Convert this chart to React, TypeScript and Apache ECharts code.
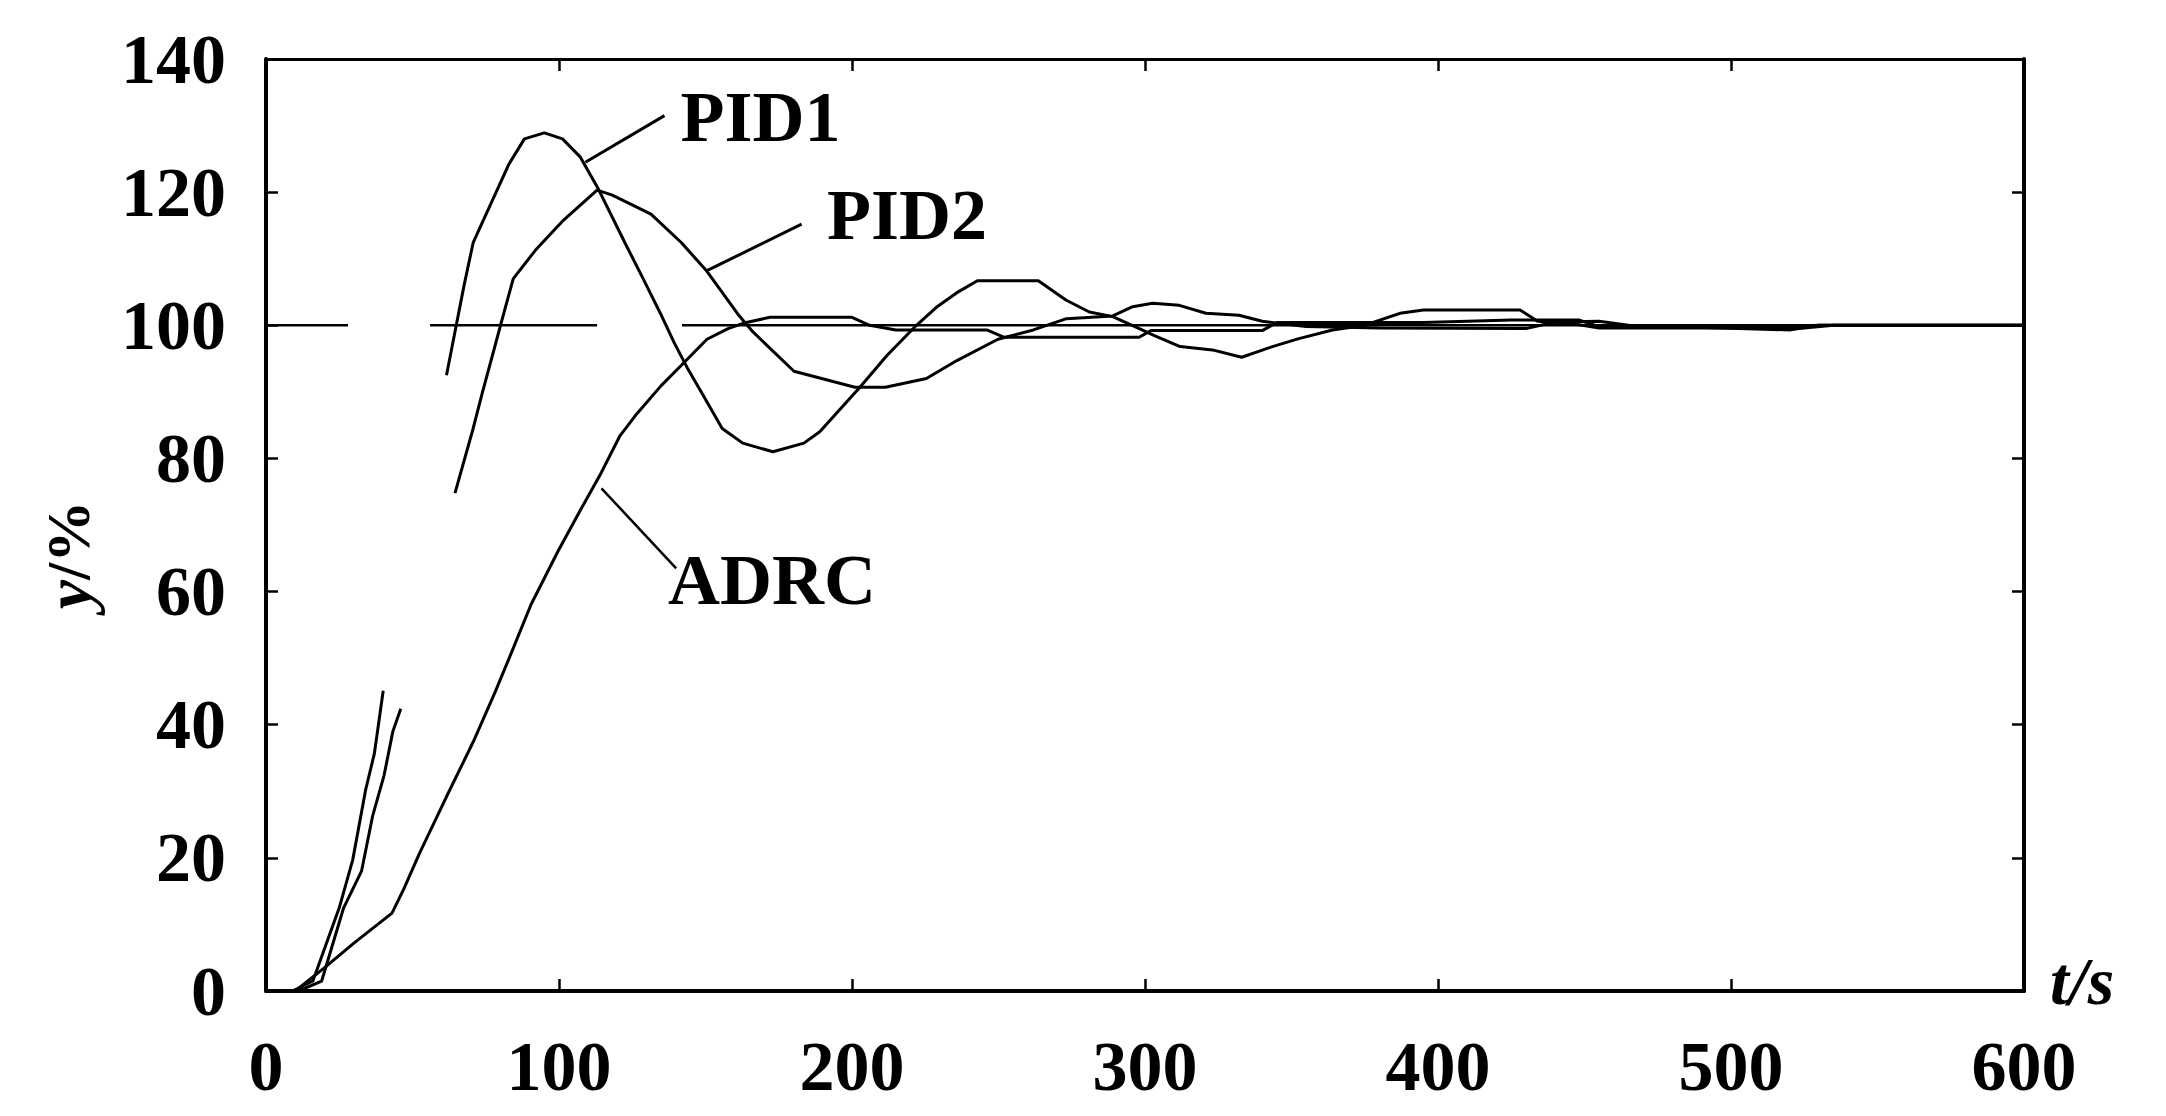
import React, { useEffect, useRef } from "react";
import * as echarts from "echarts";

// ---- axes ----
const xTickValues = [0, 100, 200, 300, 400, 500, 600];
const yTickValues = [0, 20, 40, 60, 80, 100, 120, 140];

// ---- PID1 (t in s, y in %) ; null = break in the trace ----
const pid1T = [9, 16, 25, 29.6, 34, 37, 40, 50, 61.6, 67.6, 70.7, 76.8, 82.9, 88.2, 95, 101.2, 107.2, 113.4, 122.5, 128.7, 134.7, 139.3, 143.8, 148.8, 155.7, 162.7, 173, 183.6, 189, 202.7, 212, 222, 228.8, 235.8, 242.8, 263.6, 273, 281, 289, 299, 303, 312, 323, 333, 343.5, 352.5, 364, 375, 387, 395, 428, 434, 445, 455, 525, 535, 600];
const pid1Y = [0, 1.5, 12.5, 19.7, 30.2, 35.7, 45.1, null, 92.5, 106, 112.4, 118.3, 124.2, 128, 128.9, 128, 125.3, 120.5, 112.4, 107, 101.7, 97.4, 93.6, 89.8, 84.5, 82.3, 81, 82.3, 84, 90.7, 95.5, 100, 102.7, 104.9, 106.7, 106.7, 103.8, 102, 101.3, 99.3, 98.5, 96.8, 96.3, 95.2, 96.8, 98, 99.3, 100, 101.8, 102.3, 102.3, 100.6, 100.3, 99.6, 99.6, 100, 100];

// ---- PID2 ----
const pid2T = [11, 19, 26.5, 32.6, 36.4, 40.3, 43.3, 46, 55, 64.5, 70.7, 73.8, 78.4, 81.4, 84.4, 92, 101.1, 113, 118, 131.4, 141.8, 150.5, 161, 166.2, 180.2, 201, 211.4, 225.4, 235.8, 249.8, 261.9, 273.2, 289, 295.8, 302.6, 311.7, 320.8, 332.1, 340, 355, 380, 430, 440, 455, 465, 520, 530, 600];
const pid2Y = [0, 1.5, 12.5, 18, 26.3, 32.4, 39, 42.4, null, 74.8, 84.5, 89.8, 97.3, 102.2, 107, 111.3, 115.6, 120.3, 119.6, 116.7, 112.4, 108.1, 101.7, 99, 93.1, 90.7, 90.7, 92, 94.7, 97.9, 99.3, 101, 101.4, 102.8, 103.3, 103, 101.8, 101.5, 100.6, 99.8, 99.6, 99.5, 100.5, 100.6, 100, 99.3, 100, 100];

// ---- ADRC ----
const adrcT = [10, 20, 30, 43, 47, 52.5, 61.5, 70.7, 78.3, 83, 90.5, 99.7, 107, 114, 120.8, 126, 134.8, 142.7, 150.5, 157.7, 162.8, 172, 200, 206, 215, 246, 252, 298, 302, 340, 345, 395, 425, 440, 448, 455, 520, 530, 600];
const adrcY = [0, 3.5, 7.2, 11.7, 15.3, 20.8, 29.1, 37.4, 45, 50, 58.1, 66.1, 72, 77.5, 83.4, 86.4, 90.9, 94.4, 97.9, 99.5, 100.3, 101.2, 101.2, 100, 99.3, 99.3, 98.2, 98.2, 99.2, 99.2, 100.4, 100.4, 100.8, 100.8, 100.8, 99.8, 99.8, 100, 100];

// ---- setpoint line (100 %) ----
const setT = [0, 28, 42, 56, 113, 127, 142, 600];
const setY = [100, 100, null, 100, 100, null, 100, 100];

// ---- annotation leader lines [t, y] ----
const leaderPID1 = [[109, 124.5], [136, 131.5]];
const leaderPID2 = [[150.5, 108.2], [182.8, 115.2]];
const leaderADRC = [[114.5, 75.5], [140, 63.5]];

// ---- annotation labels ----
const labelNames = ["PID1", "PID2", "ADRC"];
const labelAnchors = [[141.5, 131.3], [191.5, 116.6], [137.2, 61.7]];

const zip = (t: number[], y: (number | null)[]) =>
  t.map((v, i) => (y[i] === null ? [v, "-"] : [v, y[i]]));

const FONT = "'Liberation Serif', 'Times New Roman', serif";

const lineSeries = (name: string, data: any[], width = 3) => ({
  name,
  type: "line",
  data,
  showSymbol: false,
  symbol: "none",
  connectNulls: false,
  silent: true,
  lineStyle: { color: "#000", width },
  z: 3,
});

export default function App() {
  const ref = useRef<HTMLDivElement>(null);
  useEffect(() => {
    document.body.style.margin = "0";
    const chart = echarts.init(ref.current!, null, { renderer: "svg" });
    const tickLabel = {
      fontFamily: FONT,
      fontSize: 70,
      fontWeight: "bold",
      color: "#000",
    };
    chart.setOption({
      animation: false,
      backgroundColor: "#fff",
      grid: { left: 266, right: 142, top: 59, bottom: 125, containLabel: false, outerBoundsMode: "none" },
      xAxis: [
        {
          type: "value",
          min: 0,
          max: 600,
          interval: 100,
          axisLine: { show: true, lineStyle: { color: "#000", width: 4 } },
          axisTick: { show: true, inside: true, length: 12, lineStyle: { color: "#000", width: 2.5 } },
          axisLabel: { ...tickLabel, margin: 40, customValues: xTickValues },
          splitLine: { show: false },
        },
        {
          type: "value",
          position: "top",
          min: 0,
          max: 600,
          interval: 100,
          axisLine: { show: true, onZero: false, lineStyle: { color: "#000", width: 3 } },
          axisTick: { show: true, inside: true, length: 12, lineStyle: { color: "#000", width: 2.5 } },
          axisLabel: { show: false },
          splitLine: { show: false },
        },
      ],
      yAxis: [
        {
          type: "value",
          min: 0,
          max: 140,
          interval: 20,
          axisLine: { show: true, lineStyle: { color: "#000", width: 4 } },
          axisTick: { show: true, inside: true, length: 12, lineStyle: { color: "#000", width: 2.5 } },
          axisLabel: { ...tickLabel, margin: 40, padding: [0, 0, 14, 0], customValues: yTickValues },
          splitLine: { show: false },
        },
        {
          type: "value",
          position: "right",
          min: 0,
          max: 140,
          interval: 20,
          axisLine: { show: true, onZero: false, lineStyle: { color: "#000", width: 4 } },
          axisTick: { show: true, inside: true, length: 12, lineStyle: { color: "#000", width: 2.5 } },
          axisLabel: { show: false },
          splitLine: { show: false },
        },
      ],
      series: [
        lineSeries("setpoint", zip(setT, setY), 2.5),
        lineSeries("PID1", zip(pid1T, pid1Y)),
        lineSeries("PID2", zip(pid2T, pid2Y)),
        lineSeries("ADRC", zip(adrcT, adrcY)),
        lineSeries("leaderPID1", leaderPID1, 3),
        lineSeries("leaderPID2", leaderPID2, 3),
        lineSeries("leaderADRC", leaderADRC, 2.5),
      ],
    });

    const toPx = (pt: number[]) => chart.convertToPixel({ xAxisIndex: 0, yAxisIndex: 0 }, pt) as number[];
    const labelGraphics = labelNames.map((name, i) => {
      const [px, py] = toPx(labelAnchors[i]);
      return {
        type: "text",
        x: px,
        y: py,
        silent: true,
        style: {
          text: name,
          fontFamily: FONT,
          fontSize: 72,
          fontWeight: "bold",
          fill: "#000",
          align: "left",
          verticalAlign: "middle",
        },
      };
    });
    const [axEndX, axEndY] = toPx([600, 0]);
    const [, axYTop] = toPx([0, 140]);
    const [, axY0] = toPx([0, 0]);

    chart.setOption({
      graphic: [
        ...labelGraphics,
        {
          type: "text",
          x: axEndX + 26,
          y: axEndY - 10,
          silent: true,
          style: {
            text: "t/s",
            fontFamily: FONT,
            fontSize: 68,
            fontStyle: "italic",
            fontWeight: "bold",
            fill: "#000",
            align: "left",
            verticalAlign: "middle",
          },
        },
        {
          type: "text",
          x: 68,
          y: (axYTop + axY0) / 2 + 30,
          rotation: Math.PI / 2,
          silent: true,
          style: {
            text: "{i|y}{n|/%}",
            align: "center",
            verticalAlign: "middle",
            fill: "#000",
            rich: {
              i: { fontFamily: FONT, fontSize: 66, fontStyle: "italic", fontWeight: "bold", fill: "#000" },
              n: { fontFamily: FONT, fontSize: 62, fontWeight: "bold", fill: "#000" },
            },
          },
        },
      ],
    });
    return () => chart.dispose();
  }, []);
  return <div ref={ref} style={{ width: 2166, height: 1116 }} />;
}
